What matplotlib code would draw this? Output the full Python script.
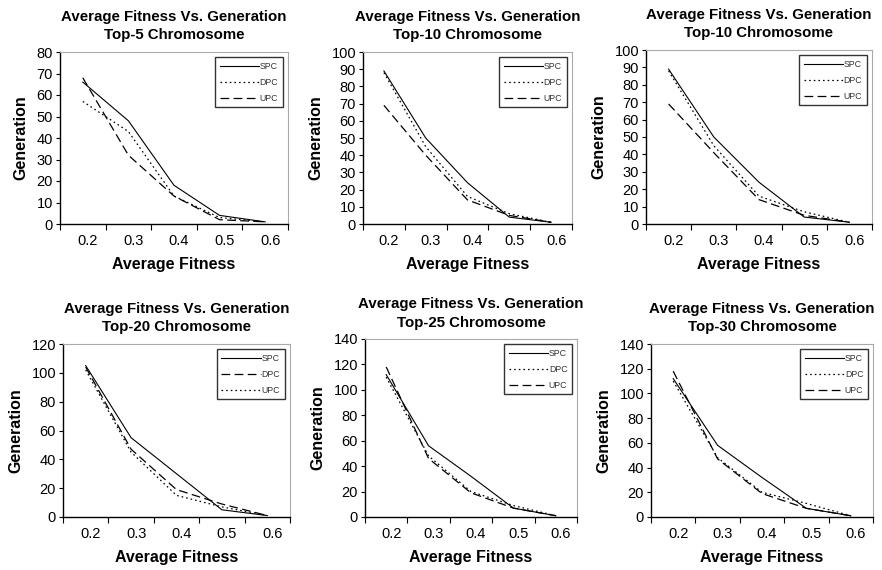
import numpy as np
import matplotlib.pyplot as plt
from matplotlib.transforms import ScaledTranslation

plt.rcParams['font.family'] = ['Liberation Sans', 'DejaVu Sans']

# Data
fitness = ['0.2', '0.3', '0.4', '0.5', '0.6']
titles = ['Top-5', 'Top-10', 'Top-10', 'Top-20', 'Top-25', 'Top-30']
spc = [[66, 48, 18, 4, 1],
       [89, 50, 24, 4, 1],
       [89, 50, 24, 4, 1],
       [105, 55, 30, 5, 1],
       [112, 56, 32, 7, 1],
       [112, 58, 32, 7, 1]]
dpc = [[57, 43, 13, 3, 1],
       [88, 45, 16, 6, 1],
       [88, 45, 16, 7, 1],
       [104, 47, 19, 9, 1],
       [110, 48, 20, 9, 1],
       [110, 48, 20, 11, 1]]
upc = [[68, 32, 13, 2, 1],
       [69, 40, 14, 5, 1],
       [69, 41, 14, 5, 1],
       [102, 45, 15, 7, 1],
       [118, 46, 19, 7, 1],
       [118, 47, 19, 7, 1]]
ymax = [80, 100, 100, 120, 140, 140]
ystep = [10, 10, 10, 20, 20, 20]

# axes boxes in pixels: left, right, top, bottom
boxes = [(60, 288, 52, 224), (363, 572, 52, 224), (646, 872, 50, 224),
         (63, 290, 344, 517), (365, 577, 339, 517), (651, 873, 344, 517)]

W, H = 882, 570
fig = plt.figure(figsize=(W / 100, H / 100), dpi=100)

dotted = (0, (1.3, 2.4))
dashed = (0, (7, 3.5))

for i in range(6):
    l, r, t, b = boxes[i]
    ax = fig.add_axes([l / W, 1 - b / H, (r - l) / W, (b - t) / H])
    x = np.arange(len(fitness))
    ax.plot(x, spc[i], color='black', lw=0.8, ls='-', label='SPC')
    # the Top-20 panel swaps the DPC / UPC line styles
    if i == 3:
        ax.plot(x, dpc[i], color='black', lw=0.9, ls=dashed, label='DPC')
        ax.plot(x, upc[i], color='black', lw=0.9, ls=dotted, label='UPC')
    else:
        ax.plot(x, dpc[i], color='black', lw=0.9, ls=dotted, label='DPC')
        ax.plot(x, upc[i], color='black', lw=0.9, ls=dashed, label='UPC')

    ax.set_xlim(-0.5, len(fitness) - 0.5)
    ax.set_ylim(0, ymax[i])
    ax.set_yticks(np.arange(0, ymax[i] + 1, ystep[i]))
    ax.set_xticks(np.arange(-0.5, len(fitness), 1.0))
    ax.set_xticklabels([])
    ax.set_xticks(x, minor=True)
    ax.set_xticklabels(fitness, minor=True)
    ax.tick_params(axis='x', which='major', direction='out', length=4, width=0.8)
    ax.tick_params(axis='x', which='minor', length=0, labelsize=10.5, pad=7)
    ax.tick_params(axis='y', direction='out', length=3, width=0.8, labelsize=10.5, pad=2)
    for lbl in ax.get_xticklabels(minor=True):
        lbl.set_transform(lbl.get_transform() + ScaledTranslation(5 / 100, 0, fig.dpi_scale_trans))

    for s in ['top', 'right']:
        ax.spines[s].set_color('#aaaaaa')
        ax.spines[s].set_linewidth(0.8)
    for s in ['left', 'bottom']:
        ax.spines[s].set_linewidth(1.0)

    ax.set_title('Average Fitness Vs. Generation\n' + titles[i] + ' Chromosome',
                 fontsize=10.8, fontweight='bold', linespacing=1.45, pad=9)
    ax.set_xlabel('Average Fitness', fontsize=11.5, fontweight='bold', labelpad=7)
    ax.set_ylabel('Generation', fontsize=11.5, fontweight='bold', labelpad=6)

    leg = ax.legend(loc='upper right', fontsize=6.3, frameon=True, fancybox=False,
                    edgecolor='black', handlelength=4.5, handletextpad=0.1,
                    borderpad=0.5, labelspacing=0.8, borderaxespad=0.6)
    leg.get_frame().set_linewidth(1.0)
    for txt in leg.get_texts():
        txt.set_color('#333333')

fig.savefig('out.png', dpi=100)
